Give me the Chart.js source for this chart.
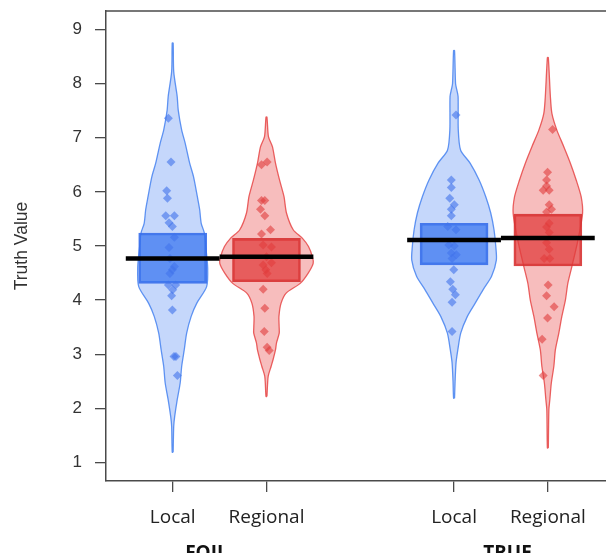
<!DOCTYPE html>
<html>
<head>
<meta charset="utf-8">
<script src="https://cdn.jsdelivr.net/npm/chart.js@4.4.1/dist/chart.umd.min.js"></script>
<style>
  html, body { margin: 0; padding: 0; background: #fff; }
  #wrap { width: 606px; height: 553px; position: relative; }
</style>
</head>
<body>
<div id="wrap"><canvas id="pirateChart"></canvas></div>
<script>
// x categories and the condition each pair belongs to
var categories = ["Local", "Regional", "Local", "Regional"];
var xPos = [1, 2, 4, 5];
var groups = ["FOIL", "TRUE"];
var groupCenters = [1.36, 4.57];
var yTicks = [1, 2, 3, 4, 5, 6, 7, 8, 9];

// mean line and interval box for each bean
var means = [4.77, 4.80, 5.11, 5.15];
var boxLow = [4.31, 4.34, 4.65, 4.63];
var boxHigh = [5.24, 5.14, 5.42, 5.59];

// violin outlines: value levels and density half-width (x units)
var foilLocalLevels = [1.19, 1.67, 1.85, 2.16, 2.47, 2.78, 3.08, 3.39, 3.70, 3.94, 4.25, 4.6, 5.0, 5.24, 5.42, 5.67, 5.91, 6.28, 6.53, 6.90, 7.14, 7.51, 7.76, 8.22, 8.75];
var foilLocalWidths = [0.005, 0.011, 0.021, 0.048, 0.08, 0.096, 0.123, 0.149, 0.197, 0.256, 0.362, 0.373, 0.352, 0.338, 0.304, 0.288, 0.263, 0.222, 0.181, 0.133, 0.096, 0.059, 0.048, 0.011, 0.005];

var foilRegionalLevels = [2.22, 2.59, 2.78, 2.90, 3.08, 3.21, 3.39, 3.51, 3.70, 3.94, 4.13, 4.31, 4.50, 4.68, 4.80, 4.99, 5.14, 5.30, 5.61, 5.91, 6.22, 6.53, 6.83, 7.02, 7.38];
var foilRegionalWidths = [0.005, 0.018, 0.05, 0.07, 0.096, 0.107, 0.136, 0.135, 0.133, 0.155, 0.21, 0.36, 0.445, 0.498, 0.49, 0.448, 0.384, 0.285, 0.213, 0.187, 0.139, 0.096, 0.064, 0.021, 0.005];

var trueLocalLevels = [2.19, 2.5, 2.84, 3.08, 3.39, 3.70, 3.94, 4.19, 4.44, 4.74, 4.99, 5.30, 5.61, 5.91, 6.22, 6.53, 6.77, 7.14, 7.76, 7.9, 8.0, 8.61];
var trueLocalWidths = [0.005, 0.011, 0.021, 0.04, 0.071, 0.142, 0.224, 0.309, 0.4, 0.451, 0.445, 0.426, 0.391, 0.338, 0.267, 0.171, 0.07, 0.045, 0.043, 0.027, 0.016, 0.005];

var trueRegionalLevels = [1.27, 1.98, 2.16, 2.47, 2.78, 3.08, 3.39, 3.70, 4.0, 4.31, 4.62, 5.1, 5.6, 5.91, 6.22, 6.53, 6.83, 7.14, 7.45, 7.76, 8.48];
var trueRegionalWidths = [0.005, 0.011, 0.021, 0.037, 0.064, 0.08, 0.117, 0.149, 0.187, 0.213, 0.256, 0.32, 0.37, 0.355, 0.302, 0.24, 0.171, 0.096, 0.043, 0.027, 0.005];

// raw ratings and their horizontal jitter (x units)
var foilLocalValues = [7.36, 6.55, 6.02, 5.88, 5.56, 5.56, 5.43, 5.36, 5.16, 4.97, 4.77, 4.62, 4.56, 4.49, 4.28, 4.28, 4.19, 4.08, 3.82, 2.96, 2.96, 2.61];
var foilLocalJitter = [-0.046, -0.018, -0.064, -0.056, -0.074, 0.018, -0.039, -0.003, 0.018, -0.039, -0.029, 0.018, -0.003, -0.029, -0.046, 0.032, 0, -0.011, -0.003, 0.014, 0.035, 0.05];

var foilRegionalValues = [6.50, 6.55, 5.84, 5.84, 5.68, 5.56, 5.22, 5.30, 5.02, 4.98, 4.80, 4.69, 4.65, 4.56, 4.49, 4.20, 3.85, 3.42, 3.13, 3.07];
var foilRegionalJitter = [-0.053, 0.007, -0.053, -0.018, -0.064, -0.018, -0.053, 0.043, -0.035, 0.053, 0, 0.053, -0.035, -0.007, 0.007, -0.035, -0.018, -0.024, 0.007, 0.029];

var trueLocalValues = [7.42, 6.22, 6.08, 5.88, 5.76, 5.68, 5.56, 5.36, 5.30, 5.02, 5.00, 4.87, 4.84, 4.77, 4.56, 4.34, 4.20, 4.10, 3.96, 3.42];
var trueLocalJitter = [0.021, -0.029, -0.029, -0.046, 0.003, -0.029, -0.029, -0.067, 0.021, -0.056, 0.003, -0.029, 0.024, -0.021, -0.003, -0.039, -0.014, 0.014, -0.021, -0.021];

var trueRegionalValues = [7.15, 6.36, 6.22, 6.11, 6.03, 6.03, 5.76, 5.68, 5.63, 5.42, 5.35, 5.25, 5.06, 4.94, 4.77, 4.77, 4.28, 4.08, 3.88, 3.67, 3.28, 2.61];
var trueRegionalJitter = [0.05, -0.003, -0.014, -0.014, -0.05, 0.014, 0.014, 0.039, -0.014, 0.014, -0.014, 0.014, -0.014, 0.014, -0.039, 0.021, 0.003, -0.014, 0.067, -0.003, -0.061, -0.05];

var beans = [
  { levels: foilLocalLevels, widths: foilLocalWidths, values: foilLocalValues, jitter: foilLocalJitter },
  { levels: foilRegionalLevels, widths: foilRegionalWidths, values: foilRegionalValues, jitter: foilRegionalJitter },
  { levels: trueLocalLevels, widths: trueLocalWidths, values: trueLocalValues, jitter: trueLocalJitter },
  { levels: trueRegionalLevels, widths: trueRegionalWidths, values: trueRegionalValues, jitter: trueRegionalJitter }
];

// colours: blue for Local, red for Regional
var palette = {
  Local: { violin: "rgba(110,155,245,0.4)", edge: "rgba(70,130,240,0.85)", box: "rgba(60,120,240,0.75)", boxEdge: "rgba(55,110,235,0.9)", point: "rgba(65,115,235,0.6)" },
  Regional: { violin: "rgba(235,90,90,0.4)", edge: "rgba(230,70,70,0.85)", box: "rgba(225,60,60,0.75)", boxEdge: "rgba(215,50,50,0.9)", point: "rgba(225,60,60,0.6)" }
};

function violinOutline(center, levels, widths) {
  var pts = [];
  for (var i = 0; i < levels.length; i++) pts.push({ x: center + widths[i], y: levels[i] });
  for (var j = levels.length - 1; j >= 0; j--) pts.push({ x: center - widths[j], y: levels[j] });
  pts.push(pts[0]);
  return pts;
}

var datasets = [];

beans.forEach(function (bean, i) {
  var col = palette[categories[i]];
  datasets.push({
    type: "scatter",
    data: violinOutline(xPos[i], bean.levels, bean.widths),
    showLine: true,
    fill: "shape",
    backgroundColor: col.violin,
    borderColor: col.edge,
    borderWidth: 1.3,
    tension: 0.25,
    pointRadius: 0,
    order: 4
  });
  datasets.push({
    type: "scatter",
    data: bean.values.map(function (v, k) { return { x: xPos[i] + bean.jitter[k], y: v }; }),
    showLine: false,
    pointStyle: "rectRot",
    pointRadius: 4.5,
    backgroundColor: col.point,
    borderWidth: 0,
    order: 2
  });
  datasets.push({
    type: "scatter",
    data: [{ x: xPos[i] - 0.5, y: means[i] }, { x: xPos[i] + 0.5, y: means[i] }],
    showLine: true,
    borderColor: "#000",
    borderWidth: 4.5,
    borderCapStyle: "butt",
    pointRadius: 0,
    order: 1
  });
});

// interval boxes as floating bars
datasets.push({
  type: "bar",
  data: xPos.map(function (x, i) { return { x: x, y: [boxLow[i], boxHigh[i]] }; }),
  backgroundColor: categories.map(function (c) { return palette[c].box; }),
  borderColor: categories.map(function (c) { return palette[c].boxEdge; }),
  borderWidth: 2,
  borderSkipped: false,
  barThickness: 68,
  order: 3
});

// top frame line and the condition names under the axis
var framePlugin = {
  id: "frame",
  afterDraw: function (chart) {
    var ctx = chart.ctx, area = chart.chartArea, xs = chart.scales.x;
    ctx.save();
    ctx.strokeStyle = "#4a4a4a";
    ctx.lineWidth = 1.5;
    ctx.beginPath();
    ctx.moveTo(area.left, area.top);
    ctx.lineTo(area.right, area.top);
    ctx.stroke();
    ctx.font = "bold 19px 'Open Sans'";
    ctx.fillStyle = "#111";
    ctx.textAlign = "center";
    ctx.textBaseline = "alphabetic";
    groups.forEach(function (g, i) {
      ctx.fillText(g, xs.getPixelForValue(groupCenters[i]), area.bottom + 78);
    });
    ctx.restore();
  }
};

function noPadding(scale) {
  scale.paddingTop = 0;
  scale.paddingBottom = 0;
  scale.paddingLeft = 0;
  scale.paddingRight = 0;
}

var ctx = document.getElementById("pirateChart").getContext("2d");

var pirateChart = new Chart(ctx, {
  type: "scatter",
  data: { datasets: datasets },
  options: {
    responsive: true,
    maintainAspectRatio: false,
    animation: false,
    events: [],
    layout: { autoPadding: false, padding: { top: 11, right: 0, bottom: 0, left: 0 } },
    plugins: {
      legend: { display: false },
      tooltip: { enabled: false }
    },
    scales: {
      x: {
        type: "linear",
        min: 0.289,
        max: 5.62,
        offset: false,
        afterBuildTicks: function (scale) {
          scale.ticks = xPos.map(function (v) { return { value: v }; });
        },
        afterFit: function (scale) { scale.height = 72; noPadding(scale); },
        grid: { offset: false, drawOnChartArea: false, drawTicks: true, tickLength: 11, color: "#4a4a4a", lineWidth: 1.3 },
        border: { display: true, color: "#4a4a4a", width: 1.5 },
        ticks: {
          callback: function (value, index) { return categories[index]; },
          font: { family: "'Open Sans'", size: 19 },
          color: "#222",
          padding: 14,
          maxRotation: 0,
          autoSkip: false
        }
      },
      y: {
        type: "linear",
        min: 0.66,
        max: 9.34,
        afterBuildTicks: function (scale) {
          scale.ticks = yTicks.map(function (v) { return { value: v }; });
        },
        afterFit: function (scale) { scale.width = 106; noPadding(scale); },
        grid: { drawOnChartArea: false, drawTicks: true, tickLength: 11, color: "#4a4a4a", lineWidth: 1.3 },
        border: { display: true, color: "#4a4a4a", width: 1.5 },
        ticks: {
          font: { family: "'Liberation Sans'", size: 17 },
          color: "#333",
          padding: 13
        },
        title: {
          display: true,
          text: "Truth Value",
          font: { family: "'Liberation Sans'", size: 17.5 },
          color: "#333",
          padding: { top: 12, bottom: 0 }
        }
      }
    }
  },
  plugins: [framePlugin]
});
</script>
</body>
</html>
